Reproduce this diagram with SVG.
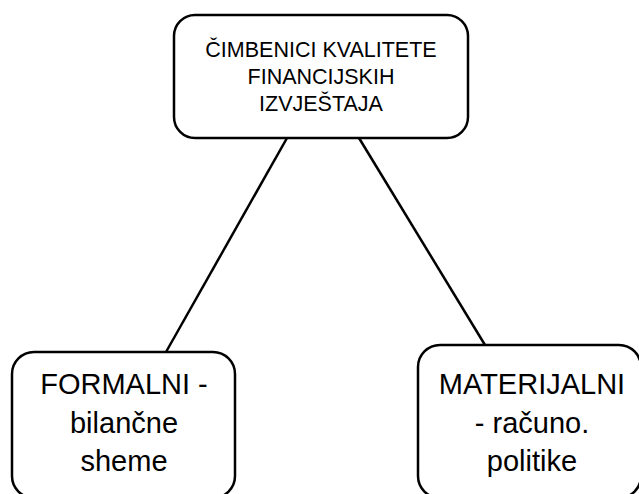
<svg xmlns="http://www.w3.org/2000/svg" width="639" height="494" viewBox="0 0 639 494">
<style>
.box{fill:#fff;stroke:#000;stroke-width:2.5}
.edge{stroke:#000;stroke-width:2.5;fill:none}
.t{font-family:"Liberation Sans",Arial,sans-serif;fill:#000;text-anchor:middle}
.s{font-size:21.5px}
.l{font-size:29px}
</style>
<rect width="639" height="494" fill="#fff"/>
<g id="connectors">
<line class="edge" x1="287" y1="138" x2="166" y2="352"/>
<line class="edge" x1="359" y1="138" x2="485" y2="345"/>
</g>
<g id="top">
<rect class="box" x="174" y="15" width="294" height="123" rx="21"/>
<text class="t s" x="321" y="57">ČIMBENICI KVALITETE</text>
<text class="t s" x="321" y="84">FINANCIJSKIH</text>
<text class="t s" x="321" y="111">IZVJEŠTAJA</text>
</g>
<g id="formalni">
<rect class="box" x="12" y="352" width="223" height="146" rx="22"/>
<text class="t l" x="124" y="394">FORMALNI -</text>
<text class="t l" x="124" y="433">bilančne</text>
<text class="t l" x="124" y="471">sheme</text>
</g>
<g id="materijalni">
<rect class="box" x="418" y="345" width="223" height="153" rx="22"/>
<text class="t l" x="532" y="394">MATERIJALNI</text>
<text class="t l" x="532" y="433">- računo.</text>
<text class="t l" x="532" y="471">politike</text>
</g>
</svg>
